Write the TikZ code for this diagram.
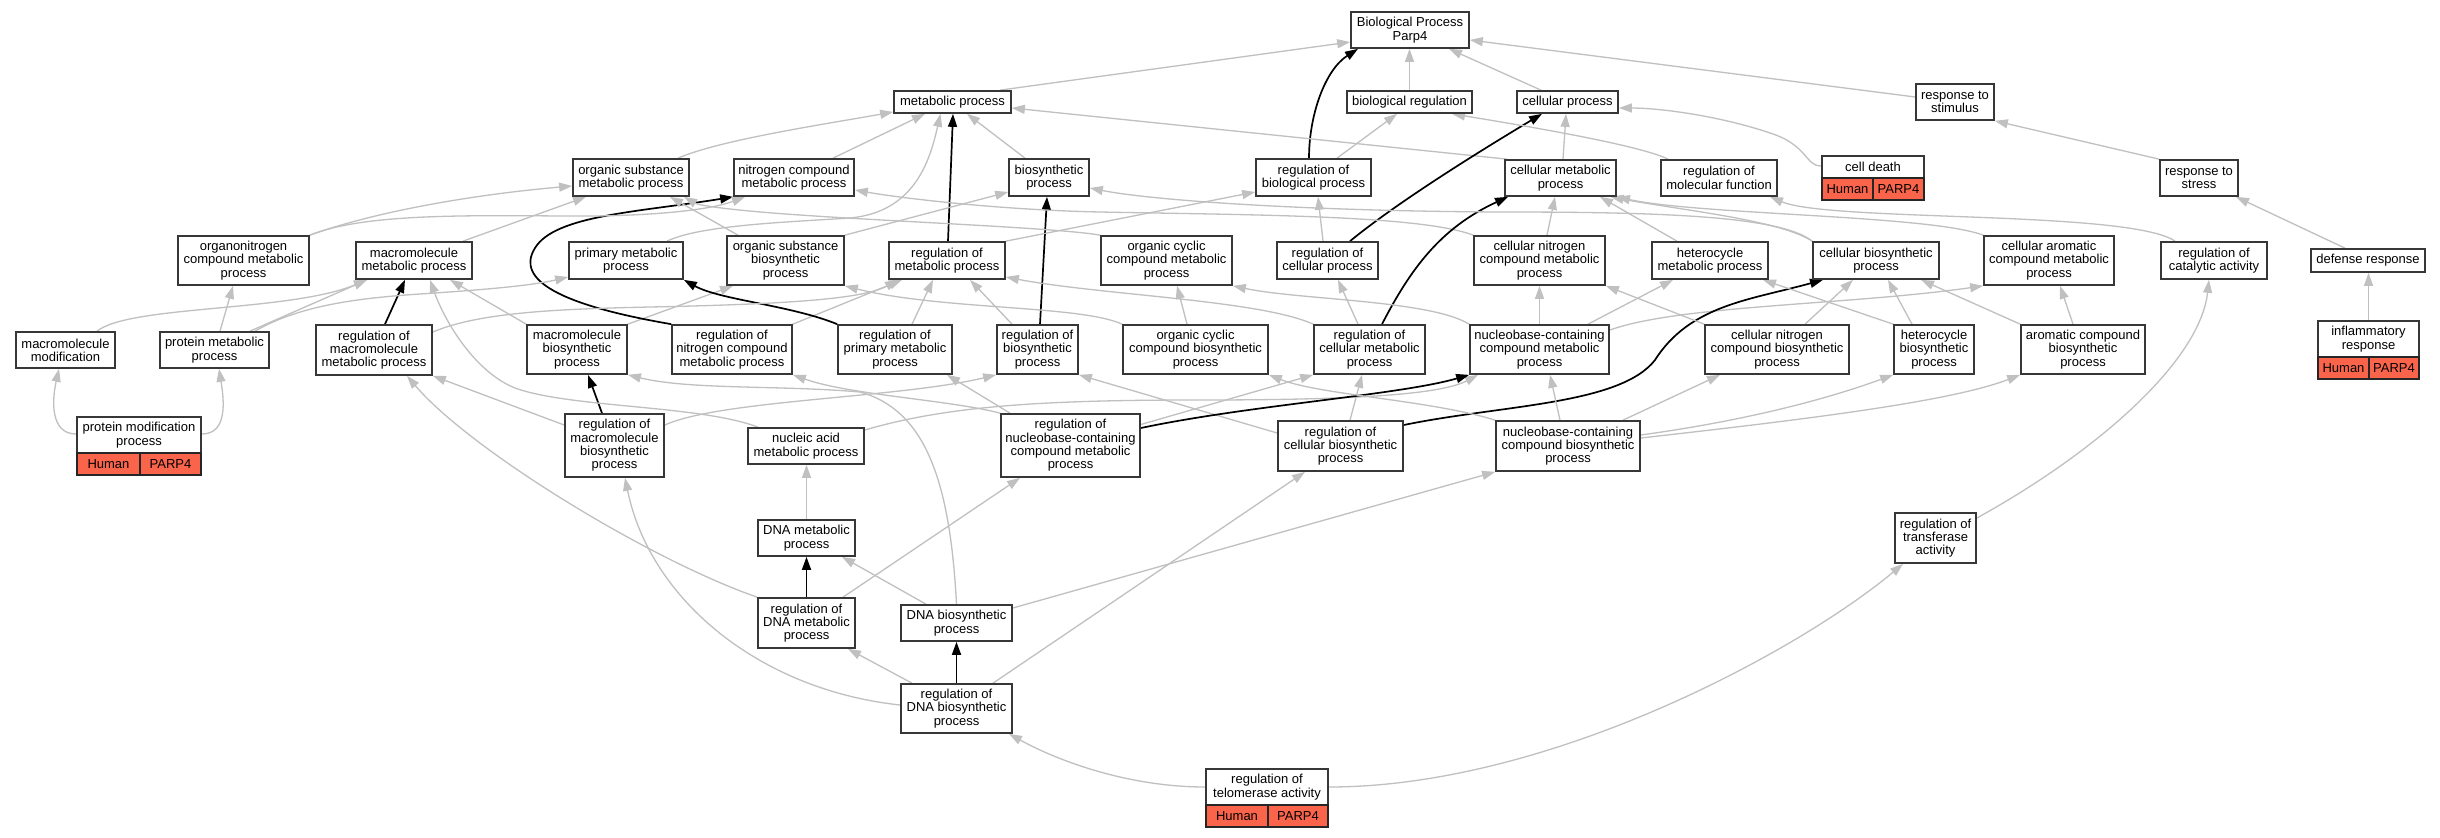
\documentclass[tikz,border=0pt]{standalone}
\usepackage{fontspec}
\setmainfont{Liberation Sans}
\usetikzlibrary{arrows.meta,backgrounds}
\definecolor{eg}{RGB}{192,192,192}
\definecolor{boxc}{RGB}{55,55,55}
\definecolor{annot}{RGB}{250,100,75}
\newcommand{\gonodefont}{\fontsize{13bp}{13.3bp}\selectfont}
\begin{document}
\begin{tikzpicture}[x=1bp,y=-1bp,
 box/.style 2 args={draw=boxc,line width=1.7bp,fill=white,inner sep=0pt,minimum width=#1bp,minimum height=#2bp,align=center,font=\gonodefont},
 cellbox/.style 2 args={draw=black!85,line width=1.4bp,fill=annot,inner sep=0pt,minimum width=#1bp,minimum height=#2bp,align=center,font=\gonodefont},
 ge/.style={draw=eg,line width=1.3bp,-{Triangle[length=13bp,width=9bp]}},
 be/.style={draw=black,line width=1.7bp,-{Triangle[length=13bp,width=9bp]}}]
\useasboundingbox (0,0) rectangle (2440,837);
% nodes
\node[box={118}{36}] (BP) at (1410,30) {Biological Process\\Parp4};
\node[box={117}{22}] (MP) at (952.5,102) {metabolic process};
\node[box={125}{22}] (BR) at (1409.5,102) {biological regulation};
\node[box={101}{22}] (CP) at (1567.5,102) {cellular process};
\node[box={78}{36}] (RS) at (1955,102) {response to\\stimulus};
\node[box={116}{37}] (OSMP) at (631,177.5) {organic substance\\metabolic process};
\node[box={120}{37}] (NCMP) at (794,177.5) {nitrogen compound\\metabolic process};
\node[box={80}{37}] (BSP) at (1049,177.5) {biosynthetic\\process};
\node[box={115}{37}] (RBP) at (1313.5,177.5) {regulation of\\biological process};
\node[box={111}{36}] (CMP) at (1560.5,178) {cellular metabolic\\process};
\node[box={116}{36}] (RMF) at (1719,178) {regulation of\\molecular function};
\node[box={102}{22}] (CDl) at (1873,167) {cell death};
\node[cellbox={51}{22}] (CDh) at (1847.5,189) {Human};
\node[cellbox={51}{22}] (CDp) at (1898.5,189) {PARP4};
\node[box={78}{36}] (RST) at (2199,178) {response to\\stress};
\node[box={131}{49}] (ONCMP) at (243.5,260.5) {organonitrogen\\compound metabolic\\process};
\node[box={116}{37}] (MMP) at (414,260.5) {macromolecule\\metabolic process};
\node[box={114}{37}] (PMP) at (626,260.5) {primary metabolic\\process};
\node[box={117}{49}] (OSBP) at (785.5,260.5) {organic substance\\biosynthetic\\process};
\node[box={116}{37}] (RMP) at (947,260.5) {regulation of\\metabolic process};
\node[box={131}{49}] (OCCMP) at (1166.5,260.5) {organic cyclic\\compound metabolic\\process};
\node[box={101}{37}] (RCP) at (1327.5,260.5) {regulation of\\cellular process};
\node[box={131}{49}] (CNCMP) at (1539.5,260.5) {cellular nitrogen\\compound metabolic\\process};
\node[box={116}{37}] (HMP) at (1710,260.5) {heterocycle\\metabolic process};
\node[box={126}{37}] (CBP) at (1876,260.5) {cellular biosynthetic\\process};
\node[box={130}{49}] (CACMP) at (2049,260.5) {cellular aromatic\\compound metabolic\\process};
\node[box={106}{37}] (RCA) at (2214,260.5) {regulation of\\catalytic activity};
\node[box={114}{23}] (DR) at (2368,260.5) {defense response};
\node[box={99}{36}] (MM) at (65.5,350) {macromolecule\\modification};
\node[box={109}{36}] (PRMP) at (214.5,350) {protein metabolic\\process};
\node[box={116}{50}] (RMMP) at (374,350) {regulation of\\macromolecule\\metabolic process};
\node[box={100}{49}] (MBP) at (577,349.5) {macromolecule\\biosynthetic\\process};
\node[box={120}{49}] (RNCMP) at (732,349.5) {regulation of\\nitrogen compound\\metabolic process};
\node[box={114}{49}] (RPMP) at (895,349.5) {regulation of\\primary metabolic\\process};
\node[box={81}{49}] (RBSP) at (1037.5,349.5) {regulation of\\biosynthetic\\process};
\node[box={145}{49}] (OCCBP) at (1195.5,349.5) {organic cyclic\\compound biosynthetic\\process};
\node[box={111}{49}] (RCMP) at (1369.5,349.5) {regulation of\\cellular metabolic\\process};
\node[box={139}{49}] (NCCMP) at (1539.5,349.5) {nucleobase-containing\\compound metabolic\\process};
\node[box={144}{49}] (CNCBP) at (1777,349.5) {cellular nitrogen\\compound biosynthetic\\process};
\node[box={80}{49}] (HBP) at (1934,349.5) {heterocycle\\biosynthetic\\process};
\node[box={124}{49}] (ACBP) at (2083,349.5) {aromatic compound\\biosynthetic\\process};
\node[box={101}{36}] (IRl) at (2368.5,339) {inflammatory\\response};
\node[cellbox={51}{22}] (IRh) at (2343.5,368) {Human};
\node[cellbox={50}{22}] (IRp) at (2394,368) {PARP4};
\node[box={124}{36}] (PMODl) at (139,435) {protein modification\\process};
\node[cellbox={63}{22}] (PMODh) at (108.5,464) {Human};
\node[cellbox={61}{22}] (PMODp) at (170.5,464) {PARP4};
\node[box={99}{63}] (RMBP) at (614.5,445.5) {regulation of\\macromolecule\\biosynthetic\\process};
\node[box={116}{36}] (NAMP) at (806,446) {nucleic acid\\metabolic process};
\node[box={139}{63}] (RNCCMP) at (1070.5,445.5) {regulation of\\nucleobase-containing\\compound metabolic\\process};
\node[box={125}{50}] (RCBP) at (1340.5,446) {regulation of\\cellular biosynthetic\\process};
\node[box={144}{50}] (NCCBP) at (1568,446) {nucleobase-containing\\compound biosynthetic\\process};
\node[box={97}{36}] (DMP) at (806.5,538) {DNA metabolic\\process};
\node[box={81}{50}] (RTA) at (1935.5,538) {regulation of\\transferase\\activity};
\node[box={97}{50}] (RDMP) at (806.5,623) {regulation of\\DNA metabolic\\process};
\node[box={111}{36}] (DBP) at (956.5,623) {DNA biosynthetic\\process};
\node[box={111}{49}] (RDBP) at (956.5,708.5) {regulation of\\DNA biosynthetic\\process};
\node[box={122}{36}] (RTELl) at (1267,787) {regulation of\\telomerase activity};
\node[cellbox={62}{22}] (RTELh) at (1237,816) {Human};
\node[cellbox={60}{22}] (RTELp) at (1298,816) {PARP4};
% edges
\begin{pgfonlayer}{background}
\fill[white] (0,0) rectangle (2440,837);
\draw[ge] ([xshift=47.5bp]MP.north) -- ([yshift=-12bp]BP.west);
\draw[ge] (BR.north) -- (BR.north |- BP.south);
\draw[ge] ([xshift=-26.5bp]CP.north) -- ([xshift=39bp]BP.south);
\draw[ge] ([yshift=5bp]RS.west) -- ([yshift=-10bp]BP.east);
\draw[be] ([xshift=-4.5bp]RBP.north) .. controls (1309,115) and (1325,70) .. ([xshift=-52bp]BP.south);
\draw[ge] ([xshift=23.5bp]RBP.north) -- ([xshift=-12.5bp]BR.south);
\draw[ge] ([xshift=2.5bp]CMP.north) -- ([xshift=-1.5bp]CP.south);
\draw[ge] ([xshift=-53.5bp]CMP.north) -- ([yshift=-6bp]MP.east);
\draw[be] ([xshift=22.5bp]RCP.north) .. controls (1400,200) and (1490,145) .. ([xshift=-25.5bp]CP.south);
\draw[ge] ([xshift=-4.5bp]RCP.north) -- ([xshift=4.5bp]RBP.south);
\draw[ge] ([yshift=1bp]CDl.west) .. controls (1805,166) and (1808,145) .. (1770,133) .. controls (1720,116) and (1660,108) .. ([yshift=-6bp]CP.east);
\draw[ge] (RST.north west) -- (RS.south east);
\draw[ge] ([xshift=-23bp]DR.north) -- ([xshift=37bp]RST.south);
\draw[ge] (IRl.north) -- (IRl.north |- DR.south);
\draw[ge] ([xshift=-51bp]RMF.north) .. controls (1640,145) and (1520,125) .. ([xshift=42.5bp]BR.south);
\draw[ge] ([xshift=-39bp]RCA.north) .. controls (2130,210) and (1830,222) .. ([xshift=51bp]RMF.south);
\draw[ge] ([yshift=20bp]RTA.east) .. controls (2100,450) and (2200,360) .. ([xshift=-5bp]RCA.south);
\draw[ge] (RTELl.east) .. controls (1550,787) and (1800,650) .. ([xshift=-32.5bp]RTA.south);
\draw[ge] (RTELl.west) .. controls (1130,787) and (1060,762) .. ([xshift=52.5bp]RDBP.south);
\draw[be] (RDBP.north) -- (DBP.south);
\draw[ge] ([xshift=-44.5bp]RDBP.north) -- ([xshift=41.5bp]RDMP.south);
\draw[ge] ([xshift=36.5bp]RDBP.north) -- ([xshift=-35.5bp]RCBP.south);
\draw[ge] ([yshift=3.5bp]RDBP.west) .. controls (760,690) and (650,600) .. ([xshift=10.5bp]RMBP.south);
\draw[ge] ([xshift=-30.5bp]DBP.north) -- ([xshift=35.5bp]DMP.south);
\draw[ge] ([yshift=15bp]DBP.east) -- (NCCBP.south west);
\draw[ge] (DBP.north) .. controls (950,480) and (925,410) .. (860,392) .. controls (780,385) and (690,390) .. (MBP.south east);
\draw[ge] (DMP.north) -- (DMP.north |- NAMP.south);
\draw[be] (RDMP.north) -- (DMP.south);
\draw[ge] (RDMP.north west) .. controls (650,560) and (470,450) .. ([xshift=33bp]RMMP.south);
\draw[ge] ([xshift=36.5bp]RDMP.north) -- ([xshift=-50.5bp]RNCCMP.south);
\draw[be] ([xshift=-12.5bp]RMBP.north) -- ([xshift=11bp]MBP.south);
\draw[ge] ([yshift=20.5bp]RMBP.west) -- (RMMP.south east);
\draw[ge] ([yshift=20.5bp]RMBP.east) .. controls (720,400) and (900,398) .. (RBSP.south west);
\draw[ge] ([xshift=-48bp]NAMP.north) .. controls (700,405) and (570,408) .. (515,388) .. controls (475,372) and (445,322) .. ([xshift=16bp]MMP.south);
\draw[ge] ([yshift=16bp]NAMP.east) .. controls (950,405) and (1050,400) .. (1200,400) .. controls (1350,400) and (1440,395) .. ([xshift=-61.5bp]NCCMP.south);
\draw[ge] (MBP.north west) -- ([xshift=36bp]MMP.south);
\draw[ge] (MBP.north east) -- ([xshift=-52.5bp]OSBP.south);
\draw[be] (RNCMP.north west) .. controls (560,305) and (515,280) .. (535,248) .. controls (555,215) and (640,212) .. (NCMP.south west);
\draw[ge] (RNCMP.north east) -- ([xshift=-45bp]RMP.south);
\draw[be] (RPMP.north west) .. controls (790,305) and (720,300) .. (PMP.south east);
\draw[ge] ([xshift=17bp]RPMP.north) -- ([xshift=-14bp]RMP.south);
\draw[be] ([xshift=2.5bp]RBSP.north) -- ([xshift=-2bp]BSP.south);
\draw[ge] ([xshift=-25.5bp]RBSP.north) -- ([xshift=23bp]RMP.south);
\draw[be] ([xshift=11bp]RMMP.north) -- ([xshift=-9bp]MMP.south);
\draw[ge] ([yshift=18bp]RMMP.east) .. controls (480,312) and (560,309) .. (650,307) .. controls (800,304) and (865,298) .. ([xshift=-49bp]RMP.south);
\draw[ge] ([xshift=35.5bp]PRMP.north) -- ([xshift=-47bp]MMP.south);
\draw[ge] ([xshift=40.5bp]PRMP.north) .. controls (300,305) and (360,298) .. (420,294) .. controls (480,290) and (530,286) .. ([yshift=-16.5bp]PMP.west);
\draw[ge] ([xshift=5.5bp]PRMP.north) -- ([xshift=-10.5bp]ONCMP.south);
\draw[ge] ([xshift=31.5bp]MM.north) .. controls (130,305) and (290,312) .. ([xshift=-47bp]MMP.south);
\draw[ge] ([yshift=1bp]PMODl.west) .. controls (50,434) and (52,400) .. ([xshift=-6.5bp]MM.south);
\draw[ge] ([yshift=1bp]PMODl.east) .. controls (228,434) and (224,400) .. ([xshift=4.5bp]PRMP.south);
\draw[ge] (ONCMP.north east) .. controls (380,210) and (480,194) .. ([yshift=-8.5bp]OSMP.west);
\draw[ge] (ONCMP.north east) .. controls (360,215) and (450,215) .. (560,216) .. controls (650,217) and (710,210) .. ([xshift=-49bp]NCMP.south);
\draw[ge] ([xshift=49bp]MMP.north) -- ([xshift=-45bp]OSMP.south);
\draw[ge] ([xshift=47bp]OSMP.north) .. controls (720,140) and (820,125) .. ([yshift=-10bp]MP.west);
\draw[ge] ([xshift=39bp]NCMP.north) -- ([xshift=-27.5bp]MP.south);
\draw[ge] ([xshift=41bp]PMP.north) .. controls (700,225) and (790,222) .. (850,218) .. controls (915,212) and (930,160) .. ([xshift=-12bp]MP.south);
\draw[be] ([xshift=1bp]RMP.north) -- ([xshift=0.5bp]MP.south);
\draw[ge] ([xshift=-24bp]BSP.north) -- ([xshift=14.5bp]MP.south);
\draw[ge] ([xshift=-47.5bp]OSBP.north) -- ([xshift=39bp]OSMP.south);
\draw[ge] (OSBP.north east) -- ([yshift=-14.5bp]BSP.west);
\draw[ge] (RMP.north east) -- ([yshift=-14.5bp]RBP.west);
\draw[ge] (OCCMP.north west) .. controls (1060,228) and (900,222) .. (800,215) .. controls (740,211) and (700,206) .. ([xshift=53bp]OSMP.south);
\draw[ge] ([xshift=-8.5bp]OCCBP.north) -- ([xshift=10.5bp]OCCMP.south);
\draw[ge] (OCCBP.north west) .. controls (1080,305) and (940,310) .. (OSBP.south east);
\draw[ge] (CNCMP.north west) .. controls (1420,215) and (1250,215) .. (1100,212) .. controls (1000,210) and (900,198) .. ([yshift=-12.5bp]NCMP.east);
\draw[ge] ([xshift=7.5bp]CNCMP.north) -- ([xshift=-5.5bp]CMP.south);
\draw[be] ([xshift=12.5bp]RCMP.north) .. controls (1410,270) and (1440,228) .. ([xshift=-52.5bp]CMP.south);
\draw[ge] ([xshift=-11.5bp]RCMP.north) -- ([xshift=10.5bp]RCP.south);
\draw[ge] (RCMP.north west) .. controls (1260,300) and (1100,295) .. ([yshift=-16.5bp]RMP.east);
\draw[ge] (NCCMP.north) -- (NCCMP.north |- CNCMP.south);
\draw[ge] ([xshift=48.5bp]NCCMP.north) -- ([xshift=-37bp]HMP.south);
\draw[ge] ([yshift=19.5bp]NCCMP.east) .. controls (1680,305) and (1850,305) .. (CACMP.south west);
\draw[ge] (NCCMP.north west) .. controls (1430,300) and (1300,300) .. (OCCMP.south east);
\draw[ge] ([xshift=-33bp]HMP.north) -- ([xshift=39.5bp]CMP.south);
\draw[ge] (CBP.north west) .. controls (1780,220) and (1680,210) .. ([xshift=50bp]CMP.south);
\draw[ge] (CBP.north west) .. controls (1780,215) and (1650,212) .. (1500,212) .. controls (1300,211) and (1150,200) .. ([yshift=-10.5bp]BSP.east);
\draw[ge] (CACMP.north west) .. controls (1930,215) and (1700,215) .. (CMP.south east);
\draw[be] ([yshift=21bp]RCBP.east) .. controls (1500,405) and (1620,405) .. (1655,360) .. controls (1690,305) and (1750,300) .. ([xshift=-53bp]CBP.south);
\draw[ge] ([yshift=13bp]RCBP.west) -- (RBSP.south east);
\draw[ge] ([xshift=9.5bp]RCBP.north) -- ([xshift=-7.5bp]RCMP.south);
\draw[be] ([yshift=17.5bp]RNCCMP.east) .. controls (1250,405) and (1400,395) .. (NCCMP.south west);
\draw[ge] ([yshift=21bp]RNCCMP.east) -- (RCMP.south west);
\draw[ge] (RNCCMP.north west) .. controls (950,400) and (850,395) .. (RNCMP.south east);
\draw[ge] ([xshift=-60.5bp]RNCCMP.north) -- ([xshift=52bp]RPMP.south);
\draw[ge] ([xshift=-8bp]NCCBP.north) -- ([xshift=10.5bp]NCCMP.south);
\draw[ge] ([xshift=55bp]NCCBP.north) -- ([xshift=-57bp]CNCBP.south);
\draw[ge] ([yshift=11bp]NCCBP.east) .. controls (1750,420) and (1830,398) .. (HBP.south west);
\draw[ge] ([yshift=8bp]NCCBP.east) .. controls (1800,420) and (1950,402) .. (ACBP.south west);
\draw[ge] (NCCBP.north west) .. controls (1430,400) and (1320,395) .. (OCCBP.south east);
\draw[ge] (CNCBP.north west) -- (CNCMP.south east);
\draw[ge] ([xshift=28bp]CNCBP.north) -- ([xshift=-23bp]CBP.south);
\draw[ge] (HBP.north west) -- ([xshift=53bp]HMP.south);
\draw[ge] ([xshift=-22bp]HBP.north) -- ([xshift=12bp]CBP.south);
\draw[ge] ([xshift=-10bp]ACBP.north) -- ([xshift=11bp]CACMP.south);
\draw[ge] (ACBP.north west) -- ([xshift=45bp]CBP.south);
\end{pgfonlayer}
\end{tikzpicture}
\end{document}
